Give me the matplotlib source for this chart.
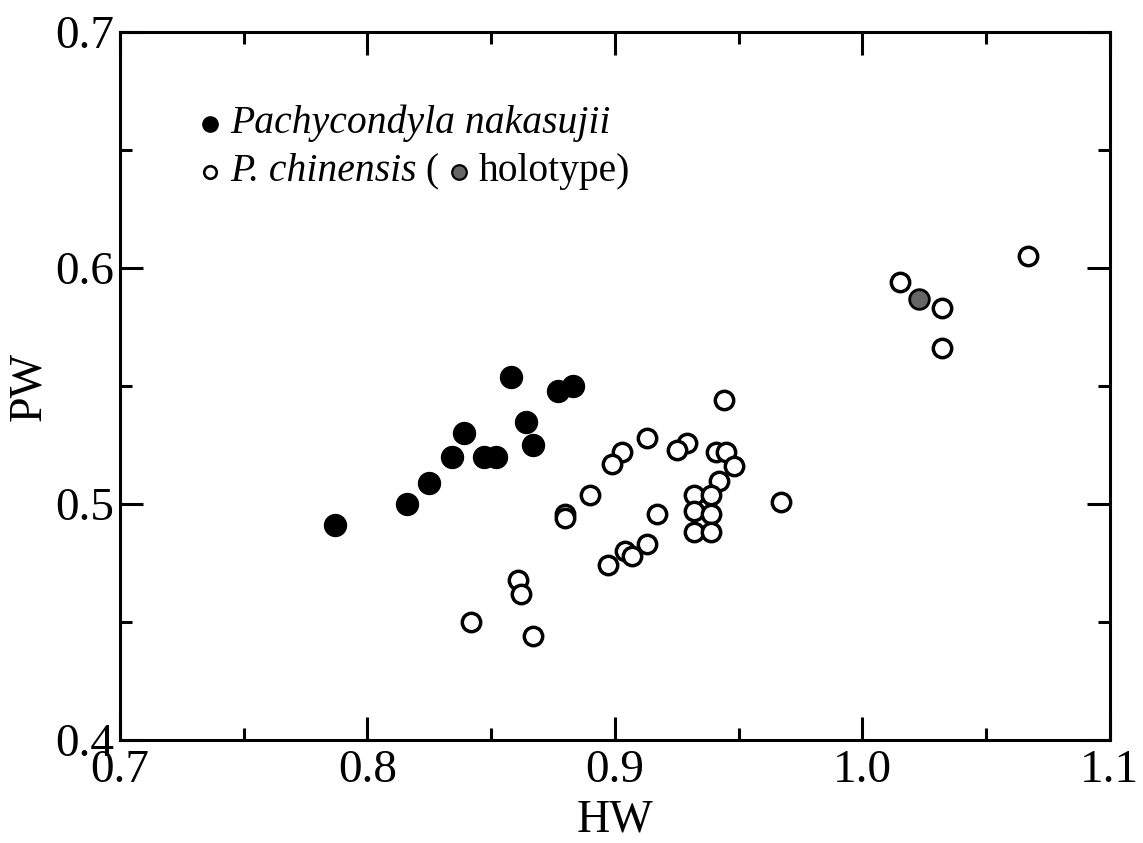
import matplotlib
matplotlib.use("Agg")
import matplotlib.pyplot as plt
from matplotlib.lines import Line2D
from matplotlib.offsetbox import (AnchoredOffsetbox, DrawingArea, HPacker,
                                  TextArea, VPacker)
from matplotlib.ticker import MultipleLocator

plt.rcParams['font.family'] = ['Liberation Serif', 'DejaVu Serif']

# Pachycondyla nakasujii (filled)
nak_hw = [0.787, 0.816, 0.825, 0.834, 0.839, 0.847, 0.852, 0.858, 0.864,
          0.867, 0.877, 0.883]
nak_pw = [0.491, 0.500, 0.509, 0.520, 0.530, 0.520, 0.520, 0.554, 0.535,
          0.525, 0.548, 0.550]

# P. chinensis (open)
chi_hw = [1.067, 1.015, 1.032, 1.032, 0.944, 0.913, 0.903, 0.899, 0.929,
          0.925, 0.941, 0.945, 0.948, 0.942, 0.890, 0.880, 0.880, 0.932,
          0.939, 0.932, 0.939, 0.932, 0.939, 0.917, 0.967, 0.913, 0.904,
          0.907, 0.897, 0.861, 0.862, 0.842, 0.867]
chi_pw = [0.605, 0.594, 0.583, 0.566, 0.544, 0.528, 0.522, 0.517, 0.526,
          0.523, 0.522, 0.522, 0.516, 0.510, 0.504, 0.496, 0.494, 0.504,
          0.504, 0.497, 0.496, 0.488, 0.488, 0.496, 0.501, 0.483, 0.480,
          0.478, 0.474, 0.468, 0.462, 0.450, 0.444]

# holotype of P. chinensis
holo_hw = [1.023]
holo_pw = [0.587]

fig = plt.figure(figsize=(11.43, 8.43), dpi=100)
ax = fig.add_axes([0.105, 0.122, 0.866, 0.84])

ax.scatter(nak_hw, nak_pw, s=250, c='black', edgecolors='black', zorder=3)
ax.scatter(chi_hw, chi_pw, s=175, facecolors='white', edgecolors='black',
           linewidths=2.5, zorder=3)
ax.scatter(holo_hw, holo_pw, s=200, c='#666666', edgecolors='black',
           linewidths=2.0, zorder=4)

ax.set_xlim(0.7, 1.1)
ax.set_ylim(0.4, 0.7)
ax.xaxis.set_minor_locator(MultipleLocator(0.05))
ax.yaxis.set_minor_locator(MultipleLocator(0.05))
ax.set_xticks([0.7, 0.8, 0.9, 1.0, 1.1])
ax.set_xticklabels(['0.7', '0.8', '0.9', '1.0', '1.1'])
ax.set_yticks([0.4, 0.5, 0.6, 0.7])
ax.set_yticklabels(['0.4', '0.5', '0.6', '0.7'])

for s in ax.spines.values():
    s.set_linewidth(2.2)
ax.tick_params(which='both', direction='in', top=True, right=True,
               width=2.2, labelsize=34)
ax.tick_params(which='major', length=16.5)
ax.tick_params(which='minor', length=8.6)
ax.tick_params(axis='x', which='major', pad=7)
ax.tick_params(axis='y', which='major', pad=4)

ax.set_xlabel('HW', fontsize=33, labelpad=5)
ax.set_ylabel('PW', fontsize=33, labelpad=4)


# legend built from small marker boxes and text pieces
def key(face, size, lw):
    da = DrawingArea(18, 18, 0, 0)
    da.add_artist(Line2D([9], [9], marker='o', markersize=size, color=face,
                         markerfacecolor=face, markeredgecolor='black',
                         markeredgewidth=lw, linestyle='none'))
    return da


txt = dict(fontsize=28.5)
itx = dict(fontsize=28.5, fontstyle='italic')
row1 = HPacker(children=[key('black', 11, 1.0),
                         TextArea('Pachycondyla nakasujii', textprops=itx)],
               align='center', pad=0, sep=5)
name2 = HPacker(children=[TextArea('P. chinensis', textprops=itx),
                          TextArea(' (', textprops=txt)],
                align='baseline', pad=0, sep=0)
row2 = HPacker(children=[key('white', 9, 1.9), name2,
                         key('#666666', 10.5, 1.6),
                         TextArea('holotype)', textprops=txt)],
               align='center', pad=0, sep=5)
box = VPacker(children=[row1, row2], align='left', pad=0, sep=8)
anch = AnchoredOffsetbox(loc='upper left', child=box, frameon=False,
                         bbox_to_anchor=(0.073, 0.905),
                         bbox_transform=ax.transAxes, borderpad=0)
ax.add_artist(anch)

fig.savefig('out.png', dpi=100)
